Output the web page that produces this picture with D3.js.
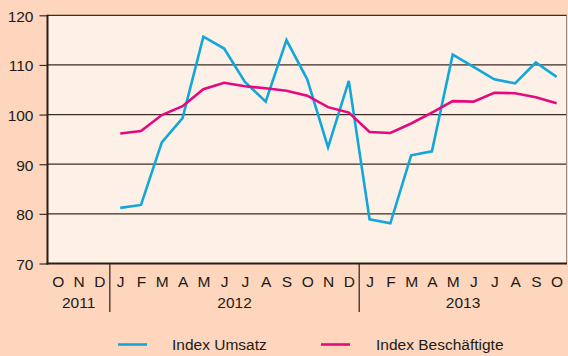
<!DOCTYPE html>
<html>
<head>
<meta charset="utf-8">
<script src="https://cdn.jsdelivr.net/npm/d3@7"></script>
<style>
  html, body { margin: 0; padding: 0; background: #FDD6BD; }
  svg { display: block; font-family: "Liberation Sans", Arial, sans-serif; }
</style>
</head>
<body>
<svg id="chart" width="568" height="356"></svg>
<script>
// Monthly axis labels, Oct 2011 – Oct 2013
const months = ["O","N","D","J","F","M","A","M","J","J","A","S","O","N","D",
                "J","F","M","A","M","J","J","A","S","O"];
const years = [
  { label: "2011", from: 0, to: 2 },
  { label: "2012", from: 3, to: 14 },
  { label: "2013", from: 15, to: 24 }
];
const yTicks = [70, 80, 90, 100, 110, 120];

// Series values; null where no value is reported (Oct–Dec 2011)
const umsatz = [null, null, null,
  81.2, 81.8, 94.4, 99.3, 115.7, 113.3, 106.6, 102.6, 115.0, 107.1, 93.4, 106.8,
  78.9, 78.1, 91.8, 92.6, 112.1, 109.6, 107.1, 106.3, 110.5, 107.6];
const beschaeftigte = [null, null, null,
  96.2, 96.7, 99.9, 101.7, 105.1, 106.4, 105.7, 105.3, 104.8, 103.8, 101.5, 100.4,
  96.5, 96.3, 98.2, 100.4, 102.7, 102.6, 104.4, 104.3, 103.5, 102.3];

const seriesNames = ["Index Umsatz", "Index Beschäftigte"];
const colors = ["#12A7DA", "#E5097F"];

const svg = d3.select("#chart");
const pl = 47.5, pr = 567, pt = 15.3, pb = 263.5;
const fs = 15.5;

const x = d3.scaleBand().domain(d3.range(months.length)).range([pl, pr]);
const y = d3.scaleLinear().domain([70, 120]).range([pb, pt]);

// plot area
svg.append("rect")
  .attr("x", pl).attr("y", pt)
  .attr("width", pr - pl).attr("height", pb - pt)
  .attr("fill", "#FDF0E7");

// horizontal grid lines
svg.append("g").selectAll("line")
  .data(yTicks.filter(d => d > 70))
  .join("line")
  .attr("x1", pl).attr("x2", pr)
  .attr("y1", d => y(d)).attr("y2", d => y(d))
  .attr("stroke", "#3d2d24").attr("stroke-width", 1.2);

// right border
svg.append("line")
  .attr("x1", pr - 0.5).attr("x2", pr - 0.5)
  .attr("y1", pt).attr("y2", pb)
  .attr("stroke", "#9a8a80").attr("stroke-width", 1);

// y axis
const yAxis = d3.axisLeft(y).tickValues(yTicks).tickSize(8).tickPadding(6);
const gy = svg.append("g").attr("transform", `translate(${pl},0)`).call(yAxis);
gy.select(".domain").remove();
gy.selectAll(".tick line").attr("stroke", "#3d2d24").attr("stroke-width", 1.2);
gy.selectAll(".tick text")
  .attr("fill", "#231a15").attr("font-size", fs).attr("dy", "0.38em")
  .attr("font-family", "Liberation Sans, Arial, sans-serif");

// axis frame lines
svg.append("line")
  .attr("x1", pl).attr("x2", pl).attr("y1", pt - 0.6).attr("y2", pb + 1)
  .attr("stroke", "#2a1d16").attr("stroke-width", 2);
svg.append("line")
  .attr("x1", pl - 1).attr("x2", pr).attr("y1", pb).attr("y2", pb)
  .attr("stroke", "#2a1d16").attr("stroke-width", 2);

// month labels
svg.append("g").selectAll("text")
  .data(months)
  .join("text")
  .attr("x", (d, i) => x(i) + x.bandwidth() / 2 + 0.5)
  .attr("y", 287.3)
  .attr("text-anchor", "middle")
  .attr("font-size", fs)
  .attr("fill", "#231a15")
  .text(d => d);

// year separators and labels
const seps = years.slice(1).map(d => x(d.from));
svg.append("g").selectAll("line")
  .data(seps)
  .join("line")
  .attr("x1", d => d).attr("x2", d => d)
  .attr("y1", pb).attr("y2", 312)
  .attr("stroke", "#2a1d16").attr("stroke-width", 1.2);

svg.append("g").selectAll("text")
  .data(years)
  .join("text")
  .attr("x", d => (x(d.from) + (d.to === months.length - 1 ? pr : x(d.to) + x.bandwidth())) / 2)
  .attr("y", 307.5)
  .attr("text-anchor", "middle")
  .attr("font-size", fs)
  .attr("fill", "#231a15")
  .text(d => d.label);

// data lines
const line = d3.line()
  .defined(d => d != null)
  .x((d, i) => x(i) + x.bandwidth() / 2)
  .y(d => y(d));

[umsatz, beschaeftigte].forEach((s, k) => {
  svg.append("path")
    .datum(s)
    .attr("d", line)
    .attr("fill", "none")
    .attr("stroke", colors[k])
    .attr("stroke-width", 2.6)
    .attr("stroke-linejoin", "miter");
});

// legend
const legendPos = [{ lx: 118, tx: 172 }, { lx: 321, tx: 376 }];
seriesNames.forEach((name, k) => {
  const g = svg.append("g");
  g.append("line")
    .attr("x1", legendPos[k].lx).attr("x2", legendPos[k].lx + 29)
    .attr("y1", 344.5).attr("y2", 344.5)
    .attr("stroke", colors[k]).attr("stroke-width", 2.6);
  g.append("text")
    .attr("x", legendPos[k].tx).attr("y", 350)
    .attr("font-size", fs)
    .attr("fill", "#231a15")
    .text(name);
});
</script>
</body>
</html>
